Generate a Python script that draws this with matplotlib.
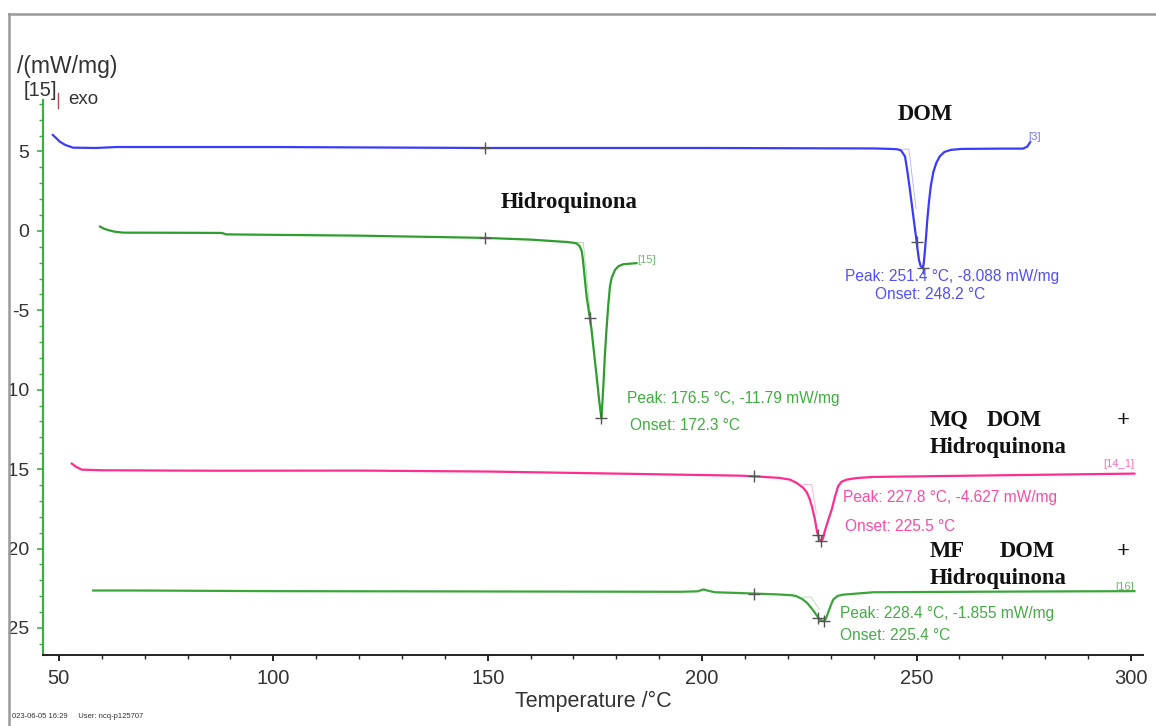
import numpy as np
import matplotlib.pyplot as plt
from matplotlib.lines import Line2D
from matplotlib.patches import Rectangle

# DSC curves, raw signal in mW/mg; each curve is shifted on screen by its offset
t_dom = [48.6, 49.3, 50.2, 51.5, 53.3, 58.7, 63.4, 100.0, 149.3, 200.0, 240.0, 244.0, 245.5,
         246.4, 247.3, 247.8, 248.3, 248.85, 249.3, 249.86, 250.2, 250.56, 250.95, 251.4,
         251.65, 251.9, 252.2, 252.5, 252.9, 253.3, 253.9, 254.6, 255.4, 256.5, 258.0,
         260.5, 270.0, 274.8, 275.8, 276.4]
dsc_dom = [0.30, 0.12, -0.12, -0.33, -0.50, -0.52, -0.46, -0.46, -0.52, -0.52, -0.55, -0.58, -0.60,
           -0.68, -1.05, -1.89, -2.85, -3.98, -4.95, -6.10, -6.85, -7.57, -7.95, -8.088,
           -7.85, -7.13, -6.15, -5.05, -3.90, -2.94, -2.05, -1.46, -1.05, -0.77, -0.64,
           -0.58, -0.56, -0.56, -0.44, -0.19]

t_hq = [59.6, 60.5, 61.5, 63.0, 65.0, 80.0, 88.0, 89.0, 120.0, 149.3, 160.0, 166.8, 168.5,
        170.0, 170.8, 171.4, 171.9, 172.2, 172.6, 173.06, 173.6, 174.2, 174.8, 175.4, 176.0,
        176.5, 176.7, 177.0, 177.3, 177.7, 178.1, 178.5, 178.9, 179.7, 180.5, 181.6, 184.7]
dsc_hq = [0.27, 0.14, 0.05, -0.05, -0.11, -0.12, -0.13, -0.22, -0.30, -0.44, -0.55, -0.67, -0.70,
          -0.75, -0.80, -0.95, -1.25, -1.80, -2.90, -4.13, -5.10, -6.20, -7.70, -9.16, -10.70,
          -11.79, -11.00, -9.60, -7.90, -6.20, -4.70, -3.50, -2.95, -2.45, -2.22, -2.10, -2.03]

t_mq = [53.0, 54.0, 55.3, 60.0, 86.8, 120.0, 150.0, 180.0, 208.8, 212.1, 218.0, 220.5, 222.0,
        223.6, 224.4, 225.1, 225.7, 226.3, 226.8, 227.3, 227.8, 228.2, 228.6, 229.4, 230.2,
        231.0, 231.7, 232.5, 233.7, 236.0, 239.9, 260.0, 280.0, 300.8]
dsc_mq = [0.26, 0.06, -0.12, -0.16, -0.19, -0.18, -0.24, -0.37, -0.50, -0.54, -0.64, -0.75, -0.95,
          -1.27, -1.55, -1.99, -2.55, -3.26, -4.05, -4.50, -4.627, -4.45, -3.99, -3.30, -2.64,
          -1.80, -1.17, -0.88, -0.75, -0.65, -0.58, -0.51, -0.44, -0.37]

t_mf = [58.0, 68.5, 100.0, 150.0, 195.0, 199.0, 200.3, 201.5, 203.0, 208.8, 218.0, 221.0, 222.0,
        223.3, 224.4, 225.4, 226.3, 227.0, 227.6, 228.4, 228.8, 229.4, 230.0, 230.6, 231.6,
        232.9, 239.9, 270.0, 300.8]
dsc_mf = [0.08, 0.08, 0.04, 0.02, 0.00, 0.03, 0.15, 0.06, -0.03, -0.08, -0.17, -0.22, -0.28,
          -0.45, -0.68, -1.00, -1.32, -1.60, -1.78, -1.855, -1.72, -1.30, -0.85, -0.48, -0.26,
          -0.18, -0.03, 0.01, 0.04]

offsets = [5.74, 0.0, -14.91, -22.72]
colors = ['#3b3bff', '#2e9e2e', '#ff2d8f', '#3aa63a']
text_colors = ['#5050ff', '#3fae3f', '#ff4aa5', '#44ad44']
curve_ids = ['[3]', '[15]', '[14_1]', '[16]']
peak_t = [251.4, 176.5, 227.8, 228.4]
peak_v = [-8.088, -11.79, -4.627, -1.855]
onset_t = [248.2, 172.3, 225.5, 225.4]
mark_t = [[149.3, 250.0, 251.4], [149.3, 173.8, 176.5], [212.1, 227.0, 227.8], [212.1, 227.1, 228.4]]

curves = [(t_dom, dsc_dom), (t_hq, dsc_hq), (t_mq, dsc_mq), (t_mf, dsc_mf)]

fig = plt.figure(figsize=(11.56, 7.26), dpi=100)
ax = fig.add_axes([43 / 1156, 1 - 655 / 726, 1100 / 1156, 555 / 726])
sans = 'Liberation Sans'
serif = 'Liberation Serif'

for i, (tt, vv) in enumerate(curves):
    tt = np.array(tt)
    vv = np.array(vv) + offsets[i]
    ax.plot(tt, vv, color=colors[i], linewidth=1.6, zorder=3, solid_joinstyle='round')

    # onset construction: baseline extension and inflection tangent
    base = np.interp(onset_t[i] - 3, tt, vv)
    lead = tt < peak_t[i]
    slope = np.min(np.diff(vv[lead]) / np.diff(tt[lead]))
    depth = base - (peak_v[i] + offsets[i])
    t_end = onset_t[i] + 0.5 * depth / abs(slope)
    ax.plot([onset_t[i] - 2.0, onset_t[i], t_end],
            [base, base, base + slope * (t_end - onset_t[i])],
            color=colors[i], linewidth=0.6, alpha=0.4, zorder=2)

    mt = np.array(mark_t[i])
    ax.plot(mt, np.interp(mt, tt, vv), linestyle='none', marker='+', markersize=9,
            markeredgewidth=1.0, color='#555555', zorder=4)

ax.set_xlim(46.3, 302.8)
ax.set_ylim(-26.7, 8.24)

ax.set_xticks(np.arange(50, 301, 50))
ax.set_xticks(np.arange(50, 301, 10), minor=True)
ax.set_yticks(np.arange(-25, 6, 5))
ax.set_yticks(np.arange(-26, 9, 1), minor=True)
ax.set_yticklabels([str(v) for v in np.arange(-25, 6, 5)])

for s in ['top', 'right']:
    ax.spines[s].set_visible(False)
ax.spines['left'].set_color('#3cb043')
ax.spines['left'].set_linewidth(1.6)
ax.spines['bottom'].set_color('#222222')
ax.spines['bottom'].set_linewidth(1.4)

ax.tick_params(axis='y', which='major', direction='out', length=4, width=1.2,
               color='#3cb043', labelsize=14, labelcolor='#333333', pad=6)
ax.tick_params(axis='y', which='minor', direction='out', length=3, width=1.0, color='#3cb043')
ax.tick_params(axis='x', which='major', direction='out', length=4, width=1.4,
               color='#222222', labelsize=14.5, labelcolor='#333333', pad=6)
ax.tick_params(axis='x', which='minor', direction='out', length=3, width=1.0, color='#222222')
for lab in ax.get_xticklabels() + ax.get_yticklabels():
    lab.set_family(sans)

ax.set_xlabel('Temperature /°C', fontsize=15.5, family=sans, color='#333333', labelpad=2)

# peak evaluation labels
peak_pos = [(233.3, -2.89), (182.5, -10.57), (232.8, -16.79), (232.1, -24.09)]
onset_pos = [(240.3, -4.03), (183.2, -12.26), (233.3, -18.62), (232.1, -25.47)]
for i in range(4):
    ax.text(*peak_pos[i], 'Peak: {:.1f} °C, {} mW/mg'.format(peak_t[i], peak_v[i]),
            color=text_colors[i], fontsize=11.2, family=sans, va='center', ha='left')
    ax.text(*onset_pos[i], 'Onset: {:.1f} °C'.format(onset_t[i]),
            color=text_colors[i], fontsize=11.2, family=sans, va='center', ha='left')

id_pos = [(276.0, 5.91, 'left'), (184.8, -1.82, 'left'), (300.8, -14.65, 'right'), (300.8, -22.45, 'right')]
for i, (x, y, ha) in enumerate(id_pos):
    ax.text(x, y, curve_ids[i], color=text_colors[i], fontsize=8, family=sans,
            va='center', ha=ha, alpha=0.8)

# sample names
bold = dict(family=serif, fontweight='bold', fontsize=16.3, color='#111111', va='center')
ax.text(252.0, 7.3, 'DOM', ha='center', **bold)
ax.text(168.9, 1.76, 'Hidroquinona', ha='center', **bold)
ax.text(253.1, -11.95, 'MQ', ha='left', **bold)
ax.text(266.4, -11.95, 'DOM', ha='left', **bold)
ax.text(298.1, -11.95, '+', ha='center', **bold)
ax.text(253.1, -13.65, 'Hidroquinona', ha='left', **bold)
ax.text(253.1, -20.19, 'MF', ha='left', **bold)
ax.text(269.4, -20.19, 'DOM', ha='left', **bold)
ax.text(298.1, -20.19, '+', ha='center', **bold)
ax.text(253.1, -21.89, 'Hidroquinona', ha='left', **bold)

# axis header
fig.text(17 / 1156, 1 - 67 / 726, '/(mW/mg)', fontsize=16.5, family=sans, color='#333333', va='center')
fig.text(24 / 1156, 1 - 91 / 726, '[15]', fontsize=14.5, family=sans, color='#333333', va='center')
fig.text(68 / 1156, 1 - 100 / 726, 'exo', fontsize=13.5, family=sans, color='#333333', va='center')
fig.add_artist(Line2D([58 / 1156, 58 / 1156], [1 - 108 / 726, 1 - 93 / 726],
                      color='#b04a5a', linewidth=1.0, transform=fig.transFigure))

fig.text(12 / 1156, 1 - 717 / 726, '023-06-05 16:29     User: ncq-p125707', fontsize=5.5,
         family=sans, color='#333333', va='center')

# window frame
fig.add_artist(Rectangle((0, 0), 8 / 1156, 1, transform=fig.transFigure,
                         facecolor='white', edgecolor='none', zorder=5))
fig.add_artist(Line2D([8.5 / 1156, 8.5 / 1156], [0, 1 - 14 / 726], color='#9a9a9a',
                      linewidth=1.8, transform=fig.transFigure, zorder=6))
fig.add_artist(Line2D([8.5 / 1156, 1], [1 - 14 / 726, 1 - 14 / 726], color='#9a9a9a',
                      linewidth=1.8, transform=fig.transFigure, zorder=6))

fig.savefig('out.png', dpi=100)
